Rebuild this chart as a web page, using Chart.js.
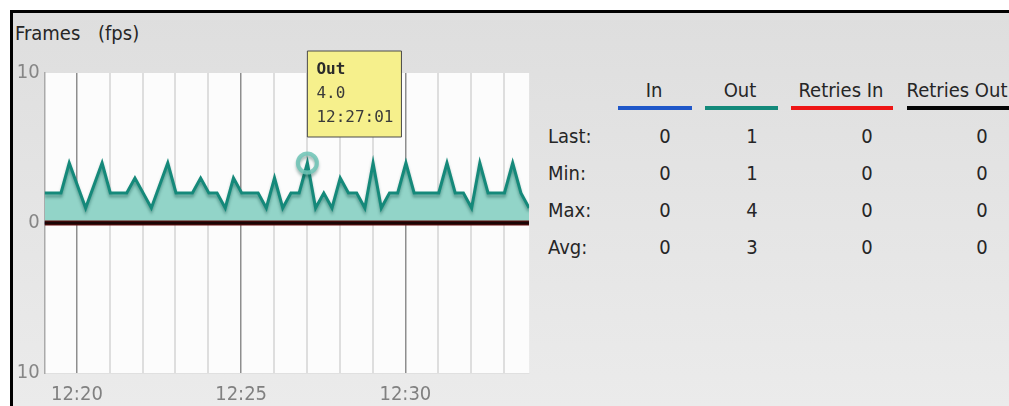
<!DOCTYPE html>
<html>
<head>
<meta charset="utf-8">
<script src="https://cdn.jsdelivr.net/npm/chart.js@4.4.0/dist/chart.umd.min.js"></script>
<style>
  html, body { margin: 0; padding: 0; background: #fff; }
  body {
    width: 1009px; height: 406px; position: relative; overflow: hidden;
    font-family: "DejaVu Sans Condensed", "DejaVu Sans", sans-serif; color: #262626;
  }
  #panel {
    position: absolute; left: 10px; top: 10px; right: 0; bottom: 0;
    border-top: 3px solid #000; border-left: 3px solid #000;
    background: linear-gradient(#dedede, #ebebeb);
  }
  #chartBox { position: absolute; left: 0; top: 0; width: 545px; height: 406px; }
  .txt {
    position: absolute; font-size: 20px; line-height: 24px; white-space: nowrap;
    transform: translate(-50%, -50%);
  }
  .left { transform: translate(0, -50%); }
  .swatch { position: absolute; height: 4px; }
</style>
</head>
<body>
<div id="panel"></div>
<div id="stats"></div>
<div id="chartBox"><canvas id="framesChart" width="545" height="406"></canvas></div>
<script>
// Out series, one point per vertex of the drawn line (15 s samples)
const outTimes = [
  "12:19:01", "12:19:31", "12:19:46", "12:20:16", "12:20:46", "12:21:01", "12:21:31", "12:21:46",
  "12:22:16", "12:22:46", "12:23:01", "12:23:31", "12:23:46", "12:24:01", "12:24:16", "12:24:31",
  "12:24:46", "12:25:01", "12:25:31", "12:25:46", "12:26:01", "12:26:16", "12:26:31", "12:26:46",
  "12:27:01", "12:27:16", "12:27:31", "12:27:46", "12:28:01", "12:28:16", "12:28:31", "12:28:46",
  "12:29:01", "12:29:16", "12:29:31", "12:29:46", "12:30:01", "12:30:16", "12:31:01", "12:31:16",
  "12:31:31", "12:31:46", "12:32:01", "12:32:16", "12:32:31", "12:33:01", "12:33:16", "12:33:31",
  "12:33:46"
];
const outValues = [
  2, 2, 4, 1, 4, 2, 2, 3,
  1, 4, 2, 2, 3, 2, 2, 1,
  3, 2, 2, 1, 3, 1, 2, 2,
  4, 1, 2, 1, 3, 2, 2, 1,
  4, 1, 2, 2, 4, 2, 2, 4,
  2, 2, 1, 4, 2, 2, 4, 2,
  1
];
// the other three series sit flat on zero
const zeroTimes = ["12:19:01", "12:33:46"];
const inValues = [0, 0];
const retriesInValues = [0, 0];
const retriesOutValues = [0, 0];

const yTicks = [-10, 0, 10];
const xLabels = ["12:20", "12:25", "12:30"];
const tooltipTime = "12:27:01";

// right hand table
const statColumns = ["In", "Out", "Retries In", "Retries Out"];
const statColors = ["#1f57c9", "#13897a", "#ee1515", "#050505"];
const statRows = ["Last:", "Min:", "Max:", "Avg:"];
const lastValues = [0, 1, 0, 0];
const minValues = [0, 1, 0, 0];
const maxValues = [0, 4, 0, 0];
const avgValues = [0, 3, 0, 0];

function toSec(t) {
  const [h, m, s] = t.split(":").map(Number);
  return h * 3600 + m * 60 + (s || 0);
}
function fmtMin(sec) {
  const h = Math.floor(sec / 3600), m = Math.floor((sec % 3600) / 60);
  return h + ":" + String(m).padStart(2, "0");
}

// --- table (html) ---
const stats = document.getElementById("stats");
function addText(text, x, y, cls) {
  const d = document.createElement("div");
  d.className = "txt" + (cls ? " " + cls : "");
  d.textContent = text;
  d.style.left = x + "px";
  d.style.top = y + "px";
  stats.appendChild(d);
}
addText("Frames", 15, 33, "left");
addText("(fps)", 98, 33, "left");

const headerX = [654, 740, 841, 957];
const swatchX = [[618, 692], [705, 778], [791, 893], [907, 1012]];
const valueX = [665, 752, 867, 982];
const rowY = [136, 173, 210, 247];
const rowValues = [lastValues, minValues, maxValues, avgValues];

statColumns.forEach((name, i) => {
  addText(name, headerX[i], 90);
  const s = document.createElement("div");
  s.className = "swatch";
  s.style.left = swatchX[i][0] + "px";
  s.style.width = (swatchX[i][1] - swatchX[i][0]) + "px";
  s.style.top = "106px";
  s.style.background = statColors[i];
  stats.appendChild(s);
});
statRows.forEach((label, r) => {
  addText(label, 548, rowY[r], "left");
  rowValues[r].forEach((v, i) => addText(String(v), valueX[i], rowY[r]));
});

// --- chart ---
const xMin = toSec(outTimes[0]);
const xMax = toSec(outTimes[outTimes.length - 1]);

const plotBackground = {
  id: "plotBackground",
  beforeDraw(chart) {
    const { ctx, chartArea: a } = chart;
    ctx.save();
    ctx.fillStyle = "#fcfcfc";
    ctx.fillRect(a.left, a.top, a.right - a.left, a.bottom - a.top);
    ctx.restore();
  }
};

// soft drop shadow under the Out line
const lineShadow = {
  id: "lineShadow",
  beforeDatasetDraw(chart, args) {
    if (args.index !== 0) return;
    const ctx = chart.ctx;
    ctx.save();
    ctx.shadowColor = "rgba(0, 70, 60, 0.4)";
    ctx.shadowBlur = 3;
    ctx.shadowOffsetY = 3;
  },
  afterDatasetDraw(chart, args) {
    if (args.index !== 0) return;
    chart.ctx.restore();
  }
};

Chart.Tooltip.positioners.abovePoint = function (items) {
  if (!items.length) return false;
  const el = items[0].element;
  return { x: el.x, y: el.y - 26 };
};

const pts = (times, vals) => times.map((t, i) => ({ x: toSec(t), y: vals[i] }));
const tipFont = { family: "'DejaVu Sans Mono', monospace", size: 16, lineHeight: 1.5 };
const axisFont = { family: "'DejaVu Sans Condensed', 'DejaVu Sans', sans-serif", size: 20 };

const chart = new Chart(document.getElementById("framesChart"), {
  type: "line",
  data: {
    datasets: [
      {
        label: "Out",
        data: pts(outTimes, outValues),
        borderColor: "#15897a",
        borderWidth: 3,
        backgroundColor: "#92d4c8",
        fill: "origin",
        tension: 0,
        pointRadius: 0,
        pointHoverRadius: 9.5,
        pointHoverBorderWidth: 4,
        pointHoverBorderColor: "rgba(110, 196, 182, 0.85)",
        pointHoverBackgroundColor: "rgba(0, 0, 0, 0)",
        order: 4
      },
      {
        label: "In",
        data: pts(zeroTimes, inValues),
        borderColor: "#1f57c9",
        borderWidth: 3,
        pointRadius: 0,
        order: 3
      },
      {
        label: "Retries In",
        data: pts(zeroTimes, retriesInValues),
        borderColor: "#6a1010",
        borderWidth: 5,
        pointRadius: 0,
        order: 2
      },
      {
        label: "Retries Out",
        data: pts(zeroTimes, retriesOutValues),
        borderColor: "#1a0606",
        borderWidth: 3,
        pointRadius: 0,
        order: 1
      }
    ]
  },
  options: {
    responsive: false,
    animation: false,
    events: [],
    layout: { padding: { left: 0, top: 73, right: 545 - 529.1, bottom: 0 } },
    scales: {
      x: {
        type: "linear",
        min: xMin,
        max: xMax,
        afterBuildTicks: (scale) => {
          const ticks = [];
          for (let v = Math.ceil(xMin / 60) * 60; v <= xMax; v += 60) ticks.push({ value: v });
          scale.ticks = ticks;
        },
        afterFit: (scale) => { scale.height = 33; },
        grid: {
          drawTicks: false,
          color: (c) => (xLabels.includes(fmtMin(c.tick.value)) ? "#8e8e8e" : "#dedede"),
          lineWidth: (c) => (xLabels.includes(fmtMin(c.tick.value)) ? 1.5 : 2)
        },
        border: { color: "#e0e0e0", width: 1 },
        ticks: {
          autoSkip: false,
          maxRotation: 0,
          padding: 10,
          color: "#808080",
          font: axisFont,
          callback: (v) => (xLabels.includes(fmtMin(v)) ? fmtMin(v) : "")
        }
      },
      y: {
        min: yTicks[0],
        max: yTicks[yTicks.length - 1],
        afterBuildTicks: (scale) => { scale.ticks = yTicks.map((v) => ({ value: v })); },
        afterFit: (scale) => { scale.width = 44.6; },
        grid: { display: false, drawTicks: false },
        border: { display: true, color: "#aaaaaa", width: 1.5 },
        ticks: {
          padding: 5,
          color: "#868686",
          font: axisFont,
          callback: (v) => String(Math.abs(v))
        }
      }
    },
    plugins: {
      legend: { display: false },
      tooltip: {
        position: "abovePoint",
        xAlign: "left",
        yAlign: "bottom",
        caretSize: 0,
        caretPadding: 0,
        cornerRadius: 0,
        displayColors: false,
        backgroundColor: "#f6f08c",
        borderColor: "#4a4a4a",
        borderWidth: 1,
        titleColor: "#2a2a2a",
        bodyColor: "#3a3a3a",
        titleFont: Object.assign({ weight: "bold" }, tipFont),
        bodyFont: tipFont,
        titleMarginBottom: 0,
        bodySpacing: 0,
        padding: { top: 7, bottom: 7, left: 9, right: 8 },
        callbacks: {
          title: (items) => items[0].dataset.label,
          label: (item) => [item.parsed.y.toFixed(1), outTimes[item.dataIndex]]
        }
      }
    }
  },
  plugins: [plotBackground, lineShadow]
});

const tipIndex = outTimes.indexOf(tooltipTime);
chart.setActiveElements([{ datasetIndex: 0, index: tipIndex }]);
chart.tooltip.setActiveElements([{ datasetIndex: 0, index: tipIndex }], { x: 0, y: 0 });
chart.draw();
</script>
</body>
</html>
